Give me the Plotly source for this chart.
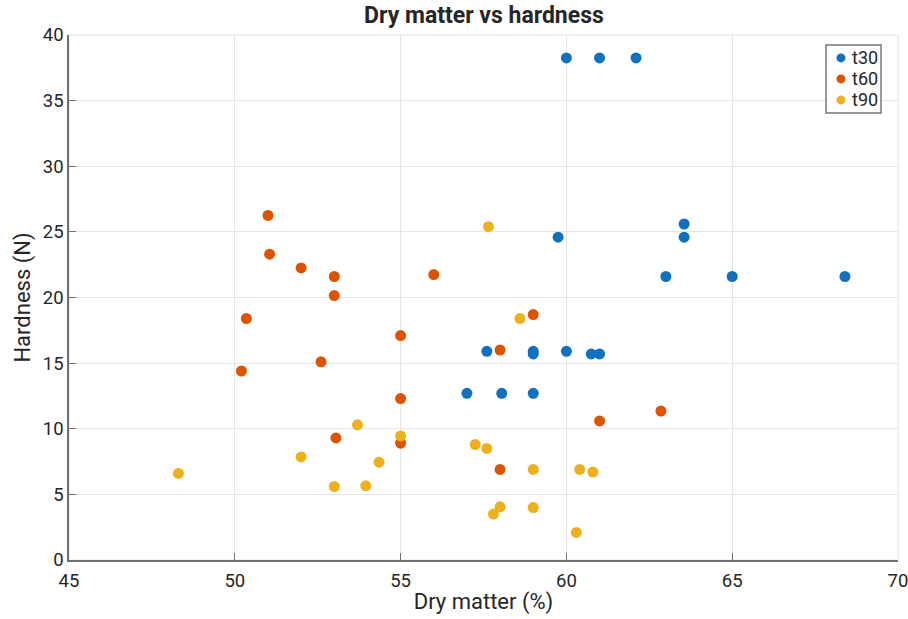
import plotly.graph_objects as go

# Dry matter (%) and hardness (N) for the three time points
t30_dm = [60.0, 61.0, 62.1, 63.55, 63.55, 59.75, 63.0, 65.0, 68.4,
          57.6, 59.0, 59.0, 60.0, 60.75, 61.0, 57.0, 58.05, 59.0]
t30_hard = [38.25, 38.25, 38.25, 25.6, 24.6, 24.6, 21.6, 21.6, 21.6,
            15.9, 15.9, 15.7, 15.9, 15.7, 15.7, 12.7, 12.7, 12.7]

t60_dm = [51.0, 51.05, 52.0, 53.0, 53.0, 56.0, 50.35, 50.2, 52.6,
          55.0, 55.0, 53.05, 55.0, 59.0, 58.0, 62.85, 61.0, 58.0]
t60_hard = [26.25, 23.3, 22.25, 21.6, 20.15, 21.75, 18.4, 14.4, 15.1,
            17.1, 12.3, 9.3, 8.9, 18.7, 16.0, 11.35, 10.6, 6.9]

t90_dm = [57.65, 48.3, 52.0, 53.7, 55.0, 54.35, 53.0, 53.95, 58.6,
          57.25, 57.6, 59.0, 60.4, 60.8, 58.0, 57.8, 59.0, 60.3]
t90_hard = [25.4, 6.6, 7.85, 10.3, 9.45, 7.45, 5.6, 5.65, 18.4,
            8.8, 8.5, 6.9, 6.9, 6.7, 4.05, 3.5, 4.0, 2.1]

series = [
    ("t30", t30_dm, t30_hard, "#1171BE"),
    ("t60", t60_dm, t60_hard, "#DD5400"),
    ("t90", t90_dm, t90_hard, "#EDB120"),
]

x_ticks = [45, 50, 55, 60, 65, 70]
y_ticks = [0, 5, 10, 15, 20, 25, 30, 35, 40]

AXIS_GRAY = "#707070"
TEXT = "#262626"
FONT = "Roboto, Liberation Sans, Arial, sans-serif"

fig = go.Figure()
for name, xs, ys, color in series:
    fig.add_trace(go.Scatter(
        x=xs, y=ys, mode="markers", name=name,
        marker=dict(size=11, color=color, line=dict(width=0)),
    ))

# Compact boxed legend in the top-right corner of the axes
shapes = [
    dict(type="rect", xref="paper", yref="paper", x0=0, y0=0, x1=1, y1=1,
         line=dict(color="#e3e3e3", width=1.2), layer="below"),
    dict(type="rect", xref="paper", yref="paper",
         x0=0.9132, x1=0.9795, y0=0.8514, y1=0.981,
         line=dict(color="#777777", width=1.5), fillcolor="white", layer="above"),
]
annotations = []
entry_top, entry_step = 0.9563, 0.04
for i, (name, _, _, color) in enumerate(series):
    yc = entry_top - i * entry_step
    shapes.append(dict(type="circle", xref="paper", yref="paper",
                       xsizemode="pixel", ysizemode="pixel",
                       xanchor=0.9312, yanchor=yc,
                       x0=-4.5, x1=4.5, y0=-4.5, y1=4.5,
                       fillcolor=color, line=dict(width=0), layer="above"))
    annotations.append(dict(xref="paper", yref="paper", x=0.9424, y=yc,
                            xanchor="left", yanchor="middle", showarrow=False,
                            text=name, font=dict(size=18, color=TEXT, family=FONT)))

fig.update_layout(
    width=908, height=619,
    margin=dict(l=69, r=10, t=35, b=59, autoexpand=False),
    paper_bgcolor="white", plot_bgcolor="white",
    font=dict(family=FONT, color=TEXT, size=18),
    title=dict(text="<b>Dry matter vs hardness</b>", x=0.533, xanchor="center",
               y=1, yref="container", yanchor="top", pad=dict(t=7),
               font=dict(size=23, color=TEXT, family=FONT)),
    showlegend=False,
    shapes=shapes,
    annotations=annotations,
)

fig.update_xaxes(
    range=[45, 70], tickvals=x_ticks, ticktext=[str(v) for v in x_ticks],
    showgrid=True, gridcolor="#e6e6e6", gridwidth=1, zeroline=False,
    showline=True, linecolor=AXIS_GRAY, linewidth=1.5,
    ticks="inside", ticklen=7, tickcolor=AXIS_GRAY, tickwidth=1.2,
    tickfont=dict(size=18.5, color=TEXT), ticklabeloverflow="allow",
    ticklabelstandoff=3,
    title=dict(text="Dry matter (%)", font=dict(size=22, color=TEXT), standoff=3),
)
fig.update_yaxes(
    range=[0, 40], tickvals=y_ticks, ticktext=[str(v) for v in y_ticks],
    showgrid=True, gridcolor="#e6e6e6", gridwidth=1, zeroline=False,
    showline=True, linecolor=AXIS_GRAY, linewidth=1.5,
    ticks="inside", ticklen=7, tickcolor=AXIS_GRAY, tickwidth=1.2,
    tickfont=dict(size=18.5, color=TEXT), ticklabeloverflow="allow",
    title=dict(text="Hardness (N)", font=dict(size=22, color=TEXT), standoff=6),
)

fig.write_html("out.html")
